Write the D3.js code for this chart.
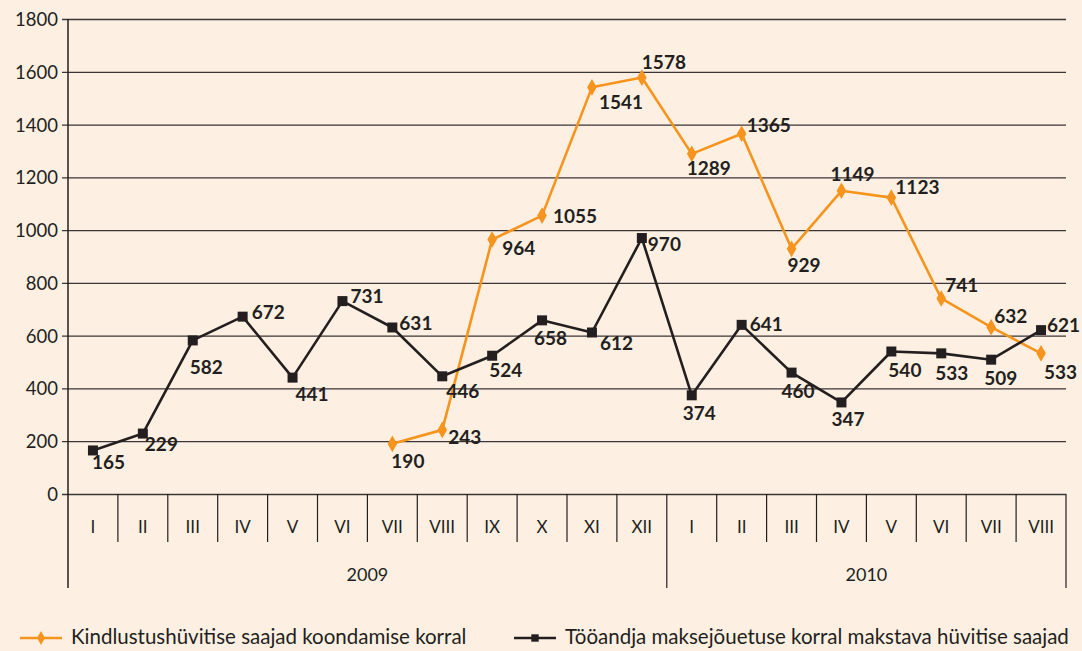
<!DOCTYPE html>
<html>
<head>
<meta charset="utf-8">
<script src="https://cdn.jsdelivr.net/npm/d3@7"></script>
<style>
  html, body { margin: 0; padding: 0; background: #fdf0e2; }
  svg { display: block; }
  text { font-family: Lato, "Open Sans", sans-serif; fill: #231f20; }
</style>
</head>
<body>
<svg id="chart" width="1082" height="651"></svg>
<script>
// Months on the category axis, grouped by year
const years = ["2009", "2010"];
const months2009 = ["I", "II", "III", "IV", "V", "VI", "VII", "VIII", "IX", "X", "XI", "XII"];
const months2010 = ["I", "II", "III", "IV", "V", "VI", "VII", "VIII"];

// Recipients of employer-insolvency benefit (all 20 months)
const employerInsolvency = [165, 229, 582, 672, 441, 731, 631, 446, 524, 658, 612, 970,
                            374, 641, 460, 347, 540, 533, 509, 621];
// Recipients of redundancy insurance benefit (from VII 2009 onwards)
const redundancyStart = 6;
const redundancy = [190, 243, 964, 1055, 1541, 1578, 1289, 1365, 929, 1149, 1123, 741, 632, 533];

const yTicks = [0, 200, 400, 600, 800, 1000, 1200, 1400, 1600, 1800];

const seriesNames = ["Kindlustushüvitise saajad koondamise korral",
                     "Tööandja maksejõuetuse korral makstava hüvitise saajad"];

// Value label offsets [dx, dy] from each point
const employerLabelOffsets = [[-1, 12], [2, 11], [-3, 27], [9, -4], [3, 17], [8, -5], [7, -4], [4, 15],
  [-3, 15], [-8, 18], [8, 11], [6, 6], [-9, 18], [8, 0], [-10, 19], [-10, 17], [-3, 19], [-6, 20],
  [-7, 19], [6, -5]];
const redundancyLabelOffsets = [[-1, 17], [6, 7], [10, 9], [11, 1], [7, 15], [0, -15], [-5, 15],
  [5, -8], [-4, 17], [-11, -16], [4, -10], [4, -13], [3, -11], [3, 19]];

const ORANGE = "#f7941d";
const DARK = "#231f20";
const GRID = "#3a3536";

const svg = d3.select("#chart");
const plotLeft = 68, plotRight = 1066, plotTop = 19, plotBottom = 494;

const keys = months2009.map(m => "2009-" + m).concat(months2010.map(m => "2010-" + m));
const monthLabel = months2009.concat(months2010);

const x = d3.scaleBand().domain(keys).range([plotLeft, plotRight]);
const y = d3.scaleLinear().domain([0, 1800]).range([plotBottom, plotTop]);
const cx = i => x(keys[i]) + x.bandwidth() / 2;

// Horizontal gridlines with short ticks on the left
const yAxis = d3.axisLeft(y).tickValues(yTicks).tickFormat(d3.format("d"))
  .tickSize(-(plotRight - plotLeft)).tickSizeOuter(0).tickPadding(10);
const gy = svg.append("g").attr("transform", `translate(${plotLeft},0)`).call(yAxis);
gy.select(".domain").remove();
gy.selectAll(".tick line").attr("stroke", GRID).attr("stroke-width", 1.3).attr("x1", -6);
gy.selectAll(".tick text").attr("font-size", 18.5).attr("font-family", "Lato, sans-serif")
  .attr("fill", DARK).attr("dy", "0.35em");

// Vertical axis line running down through the category rows
svg.append("line").attr("x1", plotLeft).attr("x2", plotLeft).attr("y1", plotTop).attr("y2", 588)
  .attr("stroke", DARK).attr("stroke-width", 1.5);

// Month separators
const sepG = svg.append("g");
keys.forEach((k, i) => {
  if (i === 0) return;
  const xx = x(k);
  const isYear = i === months2009.length;
  sepG.append("line").attr("x1", xx).attr("x2", xx).attr("y1", plotBottom).attr("y2", isYear ? 588 : 542)
    .attr("stroke", DARK).attr("stroke-width", 1.2);
});
sepG.append("line").attr("x1", plotRight).attr("x2", plotRight).attr("y1", plotBottom).attr("y2", 588)
  .attr("stroke", DARK).attr("stroke-width", 1.2);

// Month labels
svg.append("g").selectAll("text").data(keys).join("text")
  .attr("x", (d, i) => cx(i)).attr("y", 527).attr("dy", "0.35em")
  .attr("text-anchor", "middle").attr("font-size", 17).text((d, i) => monthLabel[i]);

// Year labels
const yearSpans = [[keys[0], keys[months2009.length - 1]], [keys[months2009.length], keys[keys.length - 1]]];
svg.append("g").selectAll("text").data(years).join("text")
  .attr("x", (d, i) => (x(yearSpans[i][0]) + x(yearSpans[i][1]) + x.bandwidth()) / 2)
  .attr("y", 575).attr("dy", "0.35em").attr("text-anchor", "middle").attr("font-size", 18).text(d => d);

// Lines
const line = d3.line().x(d => cx(d.i)).y(d => y(d.v));
const empData = employerInsolvency.map((v, i) => ({ i, v }));
const redData = redundancy.map((v, j) => ({ i: j + redundancyStart, v }));

svg.append("path").datum(redData).attr("d", line).attr("fill", "none")
  .attr("stroke", ORANGE).attr("stroke-width", 2.6).attr("stroke-linejoin", "round");
svg.append("path").datum(empData).attr("d", line).attr("fill", "none")
  .attr("stroke", DARK).attr("stroke-width", 2.6).attr("stroke-linejoin", "round");

const diamond = d3.symbol().type(d3.symbolDiamond).size(80);
const square = d3.symbol().type(d3.symbolSquare).size(100);

svg.append("g").selectAll("path").data(redData).join("path")
  .attr("d", diamond).attr("fill", ORANGE)
  .attr("transform", d => `translate(${cx(d.i)},${y(d.v)})`);
svg.append("g").selectAll("path").data(empData).join("path")
  .attr("d", square).attr("fill", DARK)
  .attr("transform", d => `translate(${cx(d.i)},${y(d.v)})`);

// Value labels
function valueLabels(data, offsets) {
  svg.append("g").selectAll("text").data(data).join("text")
    .attr("x", (d, k) => cx(d.i) + offsets[k][0])
    .attr("y", (d, k) => y(d.v) + offsets[k][1])
    .attr("dy", "0.35em").attr("font-size", 19).attr("font-weight", 700)
    .text(d => d.v);
}
valueLabels(redData, redundancyLabelOffsets);
valueLabels(empData, employerLabelOffsets);

// Legend
const legend = [
  { name: seriesNames[0], color: ORANGE, sym: d3.symbol().type(d3.symbolDiamond).size(55), x0: 20 },
  { name: seriesNames[1], color: DARK, sym: d3.symbol().type(d3.symbolSquare).size(55), x0: 514 }
];
const lg = svg.append("g");
legend.forEach(l => {
  lg.append("line").attr("x1", l.x0).attr("x2", l.x0 + 42).attr("y1", 638).attr("y2", 638)
    .attr("stroke", l.color).attr("stroke-width", 2.4);
  lg.append("path").attr("d", l.sym).attr("fill", l.color)
    .attr("transform", `translate(${l.x0 + 21},638)`);
  lg.append("text").attr("x", l.x0 + 51).attr("y", 637).attr("dy", "0.35em")
    .attr("font-size", 20.5).text(l.name);
});
</script>
</body>
</html>
